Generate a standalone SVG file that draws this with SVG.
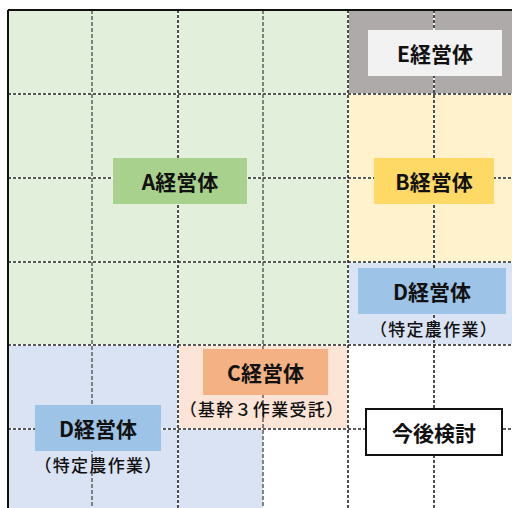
<svg xmlns="http://www.w3.org/2000/svg" width="512" height="508" viewBox="0 0 512 508">
<style>
.t{font-family:"Noto Sans CJK JP","Noto Sans",sans-serif;font-weight:bold;font-size:21px;fill:#111;text-anchor:middle;dominant-baseline:central}
.s{font-family:"Noto Sans CJK JP","Noto Sans",sans-serif;font-weight:500;font-size:17px;letter-spacing:1.3px;fill:#111;text-anchor:middle;dominant-baseline:central}
.gw{stroke:#fff;stroke-width:1.6}
.gk{stroke:#222;stroke-width:1.6;stroke-dasharray:3 2}
.gv{stroke:#555;stroke-width:1.4;stroke-dasharray:4 2}
</style>
<rect width="512" height="508" fill="#fff"/>
<g id="areas">
<rect x="8" y="10" width="340" height="335" fill="#E2EFDA"/>
<rect x="348" y="10" width="164" height="84" fill="#AEAAAA"/>
<rect x="348" y="94" width="164" height="168" fill="#FFF2CC"/>
<rect x="348" y="262" width="164" height="83" fill="#DAE3F3"/>
<path d="M8 345H178V429H263V508H8Z" fill="#DAE3F3"/>
<rect x="178" y="345" width="170" height="84" fill="#FCE4D6"/>
</g>
<g id="grid">
<g class="gw">
<line x1="8" y1="94" x2="512" y2="94"/><line x1="8" y1="178" x2="512" y2="178"/><line x1="8" y1="262" x2="512" y2="262"/><line x1="8" y1="345" x2="512" y2="345"/><line x1="8" y1="429" x2="512" y2="429"/>
<line x1="178" y1="10" x2="178" y2="508"/><line x1="348" y1="10" x2="348" y2="508"/><line x1="434" y1="10" x2="434" y2="508"/>
</g>
<g class="gk">
<line x1="8" y1="94" x2="512" y2="94"/><line x1="8" y1="178" x2="512" y2="178"/><line x1="8" y1="262" x2="512" y2="262"/><line x1="8" y1="345" x2="512" y2="345"/><line x1="8" y1="429" x2="512" y2="429"/>
<line x1="178" y1="10" x2="178" y2="508"/><line x1="348" y1="10" x2="348" y2="508"/><line x1="434" y1="10" x2="434" y2="508"/>
</g>
<g class="gv">
<line x1="92" y1="10" x2="92" y2="508"/><line x1="263" y1="10" x2="263" y2="508"/>
</g>
<line x1="8" y1="10" x2="512" y2="10" stroke="#111" stroke-width="2"/>
<line x1="8" y1="10" x2="8" y2="508" stroke="#111" stroke-width="2"/>
</g>
<g id="nodeE"><rect x="368" y="30" width="134" height="46" fill="#F2F2F2"/><text class="t" x="435" y="53">E経営体</text></g>
<g id="nodeA"><rect x="113" y="158" width="134" height="46" fill="#A9D18E"/><text class="t" x="180" y="181">A経営体</text></g>
<g id="nodeB"><rect x="374" y="158" width="120" height="46" fill="#FFD966"/><text class="t" x="434" y="181">B経営体</text></g>
<g id="nodeD1"><rect x="358" y="268" width="148" height="46" fill="#9DC3E6"/><text class="t" x="432" y="291">D経営体</text><text class="s" x="434" y="328">（特定農作業）</text></g>
<g id="nodeC"><rect x="203" y="349" width="125" height="46" fill="#F4B183"/><text class="t" x="265.5" y="372">C経営体</text><text class="s" x="262" y="408">（基幹３作業受託）</text></g>
<g id="nodeD2"><rect x="35" y="405" width="126" height="46" fill="#9DC3E6"/><text class="t" x="98" y="428">D経営体</text><text class="s" x="98.5" y="464">（特定農作業）</text></g>
<g id="nodeF"><rect x="366" y="409" width="136" height="46" fill="#fff" stroke="#111" stroke-width="2"/><text class="t" x="434" y="432">今後検討</text></g>
</svg>
